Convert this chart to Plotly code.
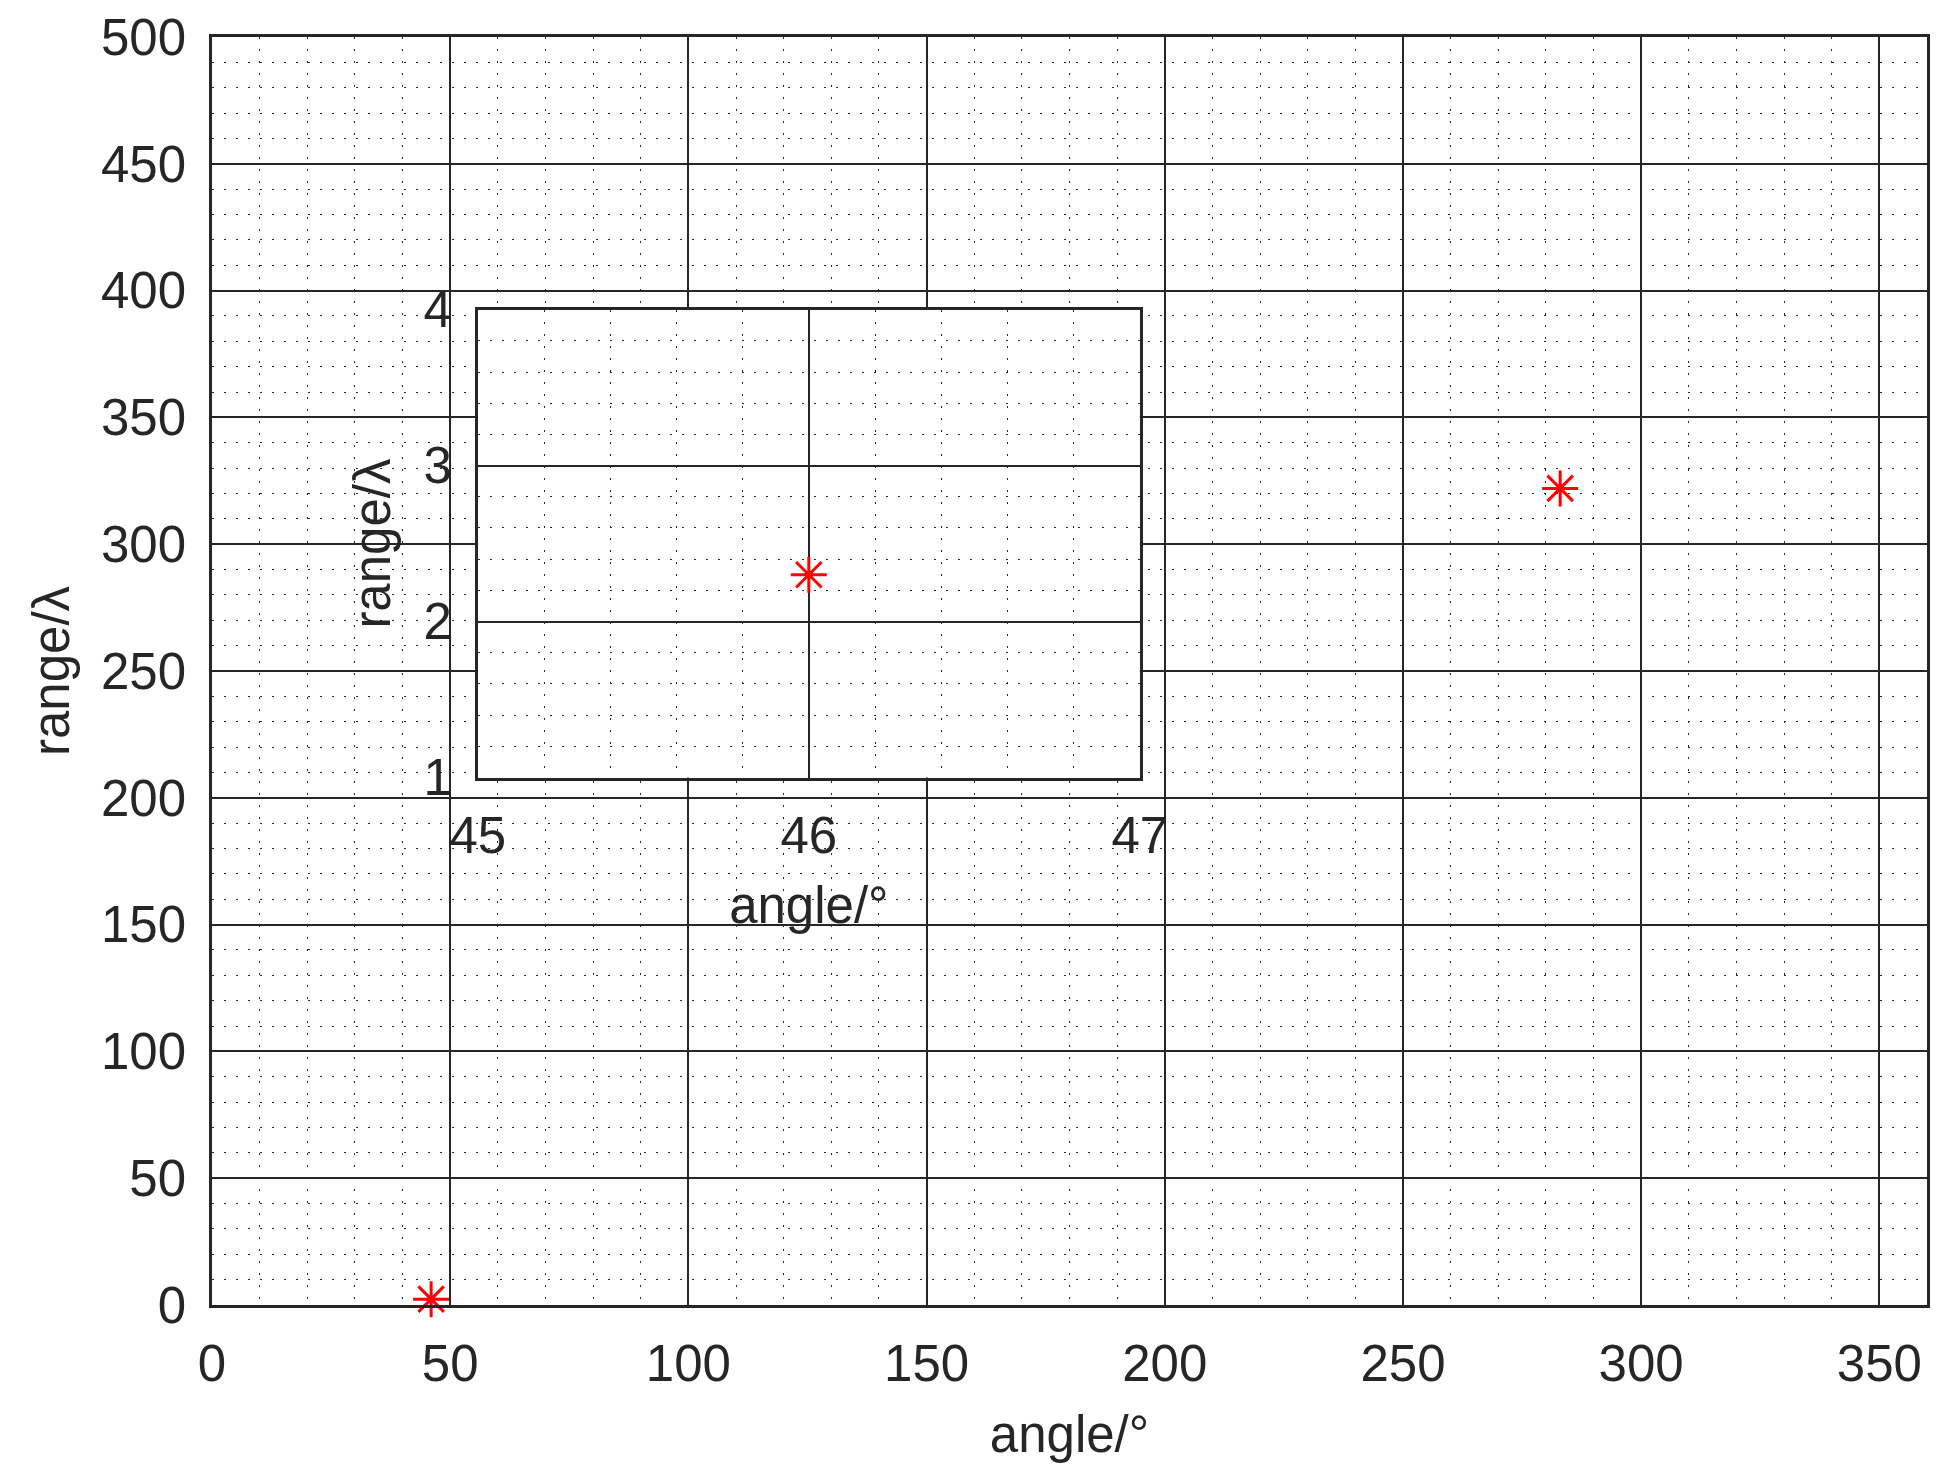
import plotly.graph_objects as go

# detected targets (angle in degrees, range in wavelengths)
angles = [46, 283]
ranges = [2.3, 322]

# zoomed view around the first target
inset_angles = [46]
inset_ranges = [2.3]

x_ticks = [0, 50, 100, 150, 200, 250, 300, 350]
y_ticks = [0, 50, 100, 150, 200, 250, 300, 350, 400, 450, 500]
inset_x_ticks = [45, 46, 47]
inset_y_ticks = [1, 2, 3, 4]

ink = "#262626"
font = dict(family="Liberation Sans, Arial, sans-serif", size=51, color=ink)
dots = "2px,10px"

star = dict(symbol="asterisk-open", size=30, color="red", line=dict(color="red", width=3))

fig = go.Figure()
fig.add_trace(go.Scatter(x=angles, y=ranges, mode="markers", marker=star,
                         cliponaxis=False, showlegend=False))
fig.add_trace(go.Scatter(x=inset_angles, y=inset_ranges, mode="markers", marker=star,
                         xaxis="x2", yaxis="y2", cliponaxis=False, showlegend=False))


def axis(rng, ticks, minor, title, standoff, tstand, **kw):
    return dict(
        range=rng, tickvals=ticks, ticks="", showline=True, linewidth=2.5, linecolor=ink,
        mirror=True, showgrid=True, gridcolor=ink, gridwidth=1.8, zeroline=False,
        automargin=False,
        minor=dict(dtick=minor, tick0=rng[0], showgrid=True, gridcolor=ink, gridwidth=1.4,
                   griddash=dots),
        tickfont=font, ticklabelstandoff=tstand,
        title=dict(text=title, font=font, standoff=standoff), **kw)


# page body adds an 8px offset, so the figure is kept a bit smaller than the window
fig.update_layout(
    width=1942, height=1467,
    margin=dict(l=204, r=23, t=29, b=170),
    paper_bgcolor="white", plot_bgcolor="white",
    font=font,
    xaxis=axis([0, 360], x_ticks, 10, "angle/°", 26, 12, domain=[0, 1]),
    yaxis=axis([0, 500], y_ticks, 10, "range/λ", 16, 13, domain=[0, 1]),
    xaxis2=axis([45, 47], inset_x_ticks, 0.2, "angle/°", 24, 12,
                domain=[0.155, 0.541], anchor="y2"),
    yaxis2=axis([1, 4], inset_y_ticks, 0.2, "range/λ", 17, 13,
                domain=[0.416, 0.785], anchor="x2"),
)

fig.write_html("out.html")
